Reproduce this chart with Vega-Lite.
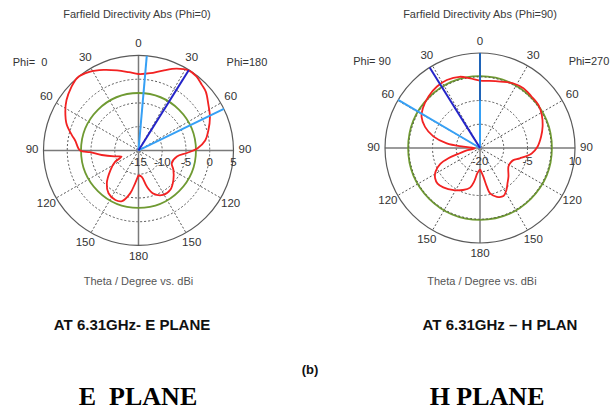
{
"$schema":"https://vega.github.io/schema/vega-lite/v6.json",
"padding":0,
"bounds":"flush",
"spacing":0,
"config":{"view":{"stroke":null}},
"resolve":{"scale":{"x":"independent","y":"independent"}},
"datasets":{
 "angles":[{"theta":0,"label":"0"},{"theta":30,"label":"30"},{"theta":60,"label":"60"},{"theta":90,"label":"90"},{"theta":120,"label":"120"},{"theta":150,"label":"150"},{"theta":180,"label":"180"},{"theta":-30,"label":"30"},{"theta":-60,"label":"60"},{"theta":-90,"label":"90"},{"theta":-120,"label":"120"},{"theta":-150,"label":"150"}],
 "spokes":[{"theta":30,"r":0},{"theta":30,"r":1},{"theta":60,"r":0},{"theta":60,"r":1},{"theta":120,"r":0},{"theta":120,"r":1},{"theta":150,"r":0},{"theta":150,"r":1},{"theta":210,"r":0},{"theta":210,"r":1},{"theta":240,"r":0},{"theta":240,"r":1},{"theta":300,"r":0},{"theta":300,"r":1},{"theta":330,"r":0},{"theta":330,"r":1}],
 "axes":[{"theta":0,"r":0},{"theta":0,"r":1},{"theta":90,"r":0},{"theta":90,"r":1},{"theta":180,"r":0},{"theta":180,"r":1},{"theta":270,"r":0},{"theta":270,"r":1}],
 "curveE":[{"theta":-180,"db":-9.8},{"theta":-174,"db":-8.0},{"theta":-169,"db":-5.8},{"theta":-162,"db":-3.8},{"theta":-155,"db":-3.5},{"theta":-145,"db":-4.0},{"theta":-136,"db":-5.4},{"theta":-125,"db":-7.8},{"theta":-116,"db":-9.5},{"theta":-110,"db":-11.2},{"theta":-104,"db":-9.8},{"theta":-97,"db":-7.2},{"theta":-92,"db":-4.8},{"theta":-90,"db":-2.7},{"theta":-81,"db":-1.5},{"theta":-77,"db":-0.6},{"theta":-70,"db":1.1},{"theta":-62,"db":2.45},{"theta":-55,"db":3.5},{"theta":-47,"db":4.4},{"theta":-40,"db":5.0},{"theta":-32,"db":4.5},{"theta":-23.5,"db":3.5},{"theta":-15,"db":2.45},{"theta":-7,"db":1.6},{"theta":0,"db":1.1},{"theta":8.6,"db":1.45},{"theta":17,"db":2.6},{"theta":25,"db":4.0},{"theta":32,"db":4.9},{"theta":38,"db":4.8},{"theta":44,"db":4.2},{"theta":49,"db":3.8},{"theta":56,"db":2.7},{"theta":65,"db":1.6},{"theta":74,"db":0.3},{"theta":81.5,"db":-0.8},{"theta":88,"db":-2.6},{"theta":93,"db":-4.8},{"theta":99,"db":-6.8},{"theta":111,"db":-7.5},{"theta":119,"db":-6.6},{"theta":130,"db":-5.4},{"theta":141,"db":-4.35},{"theta":151,"db":-4.3},{"theta":161,"db":-5.4},{"theta":167,"db":-7.2},{"theta":173,"db":-9.4},{"theta":180,"db":-9.8}],
 "curveH":[{"theta":-180,"db":-13.3},{"theta":-174,"db":-12.0},{"theta":-170,"db":-9.2},{"theta":-166,"db":-7.1},{"theta":-158,"db":-5.7},{"theta":-148,"db":-4.3},{"theta":-137,"db":-3.0},{"theta":-130,"db":-2.5},{"theta":-124,"db":-2.9},{"theta":-118,"db":-4.1},{"theta":-112,"db":-6.4},{"theta":-108,"db":-9.5},{"theta":-105,"db":-12.9},{"theta":-100,"db":-16.0},{"theta":-94,"db":-18.4},{"theta":-85.4,"db":-14.7},{"theta":-82,"db":-9.4},{"theta":-76,"db":-4.8},{"theta":-69,"db":-1.4},{"theta":-62,"db":0.9},{"theta":-55,"db":2.0},{"theta":-45,"db":3.0},{"theta":-35,"db":3.7},{"theta":-26,"db":3.9},{"theta":-16,"db":3.4},{"theta":-8,"db":2.2},{"theta":0,"db":1.3},{"theta":8,"db":1.4},{"theta":17,"db":1.9},{"theta":27,"db":2.95},{"theta":36,"db":3.3},{"theta":45,"db":3.0},{"theta":54,"db":2.9},{"theta":62,"db":2.1},{"theta":71,"db":0.9},{"theta":79.5,"db":-0.4},{"theta":89,"db":-1.9},{"theta":96,"db":-3.6},{"theta":104.5,"db":-7.0},{"theta":110,"db":-8.8},{"theta":115.6,"db":-9.3},{"theta":123,"db":-9.3},{"theta":135,"db":-7.3},{"theta":142,"db":-5.9},{"theta":148,"db":-4.3},{"theta":154,"db":-3.1},{"theta":161,"db":-3.7},{"theta":167.5,"db":-5.3},{"theta":170,"db":-7.6},{"theta":173.4,"db":-10.9},{"theta":180,"db":-13.3}]
},
"hconcat":[
{
 "width":305,"height":412,
 "layer":[
  {"data":{"values":[{"db":-10},{"db":-5},{"db":0}]},
   "transform":[{"calculate":"(datum.db+15)/20","as":"r"}],
   "mark":{"type":"point","shape":"circle","filled":false,"stroke":"#555555","strokeWidth":1,"strokeDash":[2,2],"opacity":1},
   "encoding":{"x":{"datum":0,"type":"quantitative","scale":{"domain":[-1.458,1.753],"nice":false,"zero":false},"axis":null},"y":{"datum":0,"type":"quantitative","scale":{"domain":[-2.753,1.584],"nice":false,"zero":false},"axis":null},"size":{"field":"r","type":"quantitative","scale":{"type":"pow","exponent":2,"domain":[0,1],"range":[0,36100]},"legend":null}}},
  {"data":{"name":"spokes"},
   "transform":[{"calculate":"datum.r*sin(datum.theta*PI/180)","as":"x"},{"calculate":"datum.r*cos(datum.theta*PI/180)","as":"y"}],
   "mark":{"type":"line","stroke":"#555555","strokeWidth":1,"strokeDash":[2,2]},
   "encoding":{"x":{"field":"x","type":"quantitative","scale":{"domain":[-1.458,1.753],"nice":false,"zero":false},"axis":null},"y":{"field":"y","type":"quantitative","scale":{"domain":[-2.753,1.584],"nice":false,"zero":false},"axis":null},"detail":{"field":"theta","type":"nominal"},"order":{"field":"r","type":"quantitative"}}},
  {"data":{"name":"axes"},
   "transform":[{"calculate":"datum.r*sin(datum.theta*PI/180)","as":"x"},{"calculate":"datum.r*cos(datum.theta*PI/180)","as":"y"}],
   "mark":{"type":"line","stroke":"#7a7a7a","strokeWidth":1.5},
   "encoding":{"x":{"field":"x","type":"quantitative","scale":{"domain":[-1.458,1.753],"nice":false,"zero":false},"axis":null},"y":{"field":"y","type":"quantitative","scale":{"domain":[-2.753,1.584],"nice":false,"zero":false},"axis":null},"detail":{"field":"theta","type":"nominal"},"order":{"field":"r","type":"quantitative"}}},
  {"data":{"values":[{"db":-2.9}]},
   "transform":[{"calculate":"(datum.db+15)/20","as":"r"}],
   "mark":{"type":"point","shape":"circle","filled":false,"stroke":"#6f9a32","strokeWidth":1.8,"opacity":1},
   "encoding":{"x":{"datum":0,"type":"quantitative","scale":{"domain":[-1.458,1.753],"nice":false,"zero":false},"axis":null},"y":{"datum":0,"type":"quantitative","scale":{"domain":[-2.753,1.584],"nice":false,"zero":false},"axis":null},"size":{"field":"r","type":"quantitative","scale":{"type":"pow","exponent":2,"domain":[0,1],"range":[0,36100]},"legend":null}}},
  {"data":{"values":[{"db":5}]},
   "transform":[{"calculate":"(datum.db+15)/20","as":"r"}],
   "mark":{"type":"point","shape":"circle","filled":false,"stroke":"#5a5a5a","strokeWidth":1.2,"opacity":1},
   "encoding":{"x":{"datum":0,"type":"quantitative","scale":{"domain":[-1.458,1.753],"nice":false,"zero":false},"axis":null},"y":{"datum":0,"type":"quantitative","scale":{"domain":[-2.753,1.584],"nice":false,"zero":false},"axis":null},"size":{"field":"r","type":"quantitative","scale":{"type":"pow","exponent":2,"domain":[0,1],"range":[0,36100]},"legend":null}}},
  {"data":{"values":[{"db":-15}]},
   "mark":{"type":"point","shape":"circle","filled":true,"size":28,"color":"#8a8a8a","opacity":1},
   "encoding":{"x":{"datum":0,"type":"quantitative","scale":{"domain":[-1.458,1.753],"nice":false,"zero":false},"axis":null},"y":{"datum":0,"type":"quantitative","scale":{"domain":[-2.753,1.584],"nice":false,"zero":false},"axis":null}}},
  {"data":{"name":"curveE"},
   "transform":[{"calculate":"(datum.db+15)/20*sin(datum.theta*PI/180)","as":"x"},{"calculate":"(datum.db+15)/20*cos(datum.theta*PI/180)","as":"y"}],
   "mark":{"type":"line","stroke":"#f22222","strokeWidth":1.8,"interpolate":"catmull-rom"},
   "encoding":{"x":{"field":"x","type":"quantitative","scale":{"domain":[-1.458,1.753],"nice":false,"zero":false},"axis":null},"y":{"field":"y","type":"quantitative","scale":{"domain":[-2.753,1.584],"nice":false,"zero":false},"axis":null},"order":{"field":"theta","type":"quantitative"}}},
  {"data":{"values":[{"theta":5,"db":-15},{"theta":5,"db":5},{"theta":64,"db":-15},{"theta":64,"db":5}]},
   "transform":[{"calculate":"(datum.db+15)/20*sin(datum.theta*PI/180)","as":"x"},{"calculate":"(datum.db+15)/20*cos(datum.theta*PI/180)","as":"y"}],
   "mark":{"type":"line","stroke":"#36a0f5","strokeWidth":2},
   "encoding":{"x":{"field":"x","type":"quantitative","scale":{"domain":[-1.458,1.753],"nice":false,"zero":false},"axis":null},"y":{"field":"y","type":"quantitative","scale":{"domain":[-2.753,1.584],"nice":false,"zero":false},"axis":null},"detail":{"field":"theta","type":"nominal"},"order":{"field":"db","type":"quantitative"}}},
  {"data":{"values":[{"theta":32,"db":-15},{"theta":32,"db":5}]},
   "transform":[{"calculate":"(datum.db+15)/20*sin(datum.theta*PI/180)","as":"x"},{"calculate":"(datum.db+15)/20*cos(datum.theta*PI/180)","as":"y"}],
   "mark":{"type":"line","stroke":"#2424c8","strokeWidth":2},
   "encoding":{"x":{"field":"x","type":"quantitative","scale":{"domain":[-1.458,1.753],"nice":false,"zero":false},"axis":null},"y":{"field":"y","type":"quantitative","scale":{"domain":[-2.753,1.584],"nice":false,"zero":false},"axis":null},"order":{"field":"db","type":"quantitative"}}},
  {"data":{"name":"angles"},
   "transform":[{"calculate":"1.12*sin(datum.theta*PI/180)","as":"x"},{"calculate":"1.12*cos(datum.theta*PI/180)","as":"y"}],
   "mark":{"type":"text","font":"Liberation Sans","fontSize":11.5,"color":"#333333"},
   "encoding":{"x":{"field":"x","type":"quantitative","scale":{"domain":[-1.458,1.753],"nice":false,"zero":false},"axis":null},"y":{"field":"y","type":"quantitative","scale":{"domain":[-2.753,1.584],"nice":false,"zero":false},"axis":null},"text":{"field":"label","type":"nominal"}}},
  {"data":{"values":[{"db":-15,"label":"-15"},{"db":-10,"label":"-10"},{"db":-5,"label":"-5"},{"db":0,"label":"0"},{"db":5,"label":"5"}]},
   "transform":[{"calculate":"(datum.db+15)/20","as":"x"}],
   "mark":{"type":"text","font":"Liberation Sans","fontSize":11.5,"color":"#333333"},
   "encoding":{"x":{"field":"x","type":"quantitative","scale":{"domain":[-1.458,1.753],"nice":false,"zero":false},"axis":null},"y":{"datum":-0.135,"type":"quantitative","scale":{"domain":[-2.753,1.584],"nice":false,"zero":false},"axis":null},"text":{"field":"label","type":"nominal"}}},
  {"data":{"values":[{"t":"Farfield Directivity Abs (Phi=0)"}]},
   "mark":{"type":"text","font":"Liberation Sans","fontSize":11,"color":"#3a3a3a"},
   "encoding":{"x":{"datum":-0.016,"type":"quantitative","scale":{"domain":[-1.458,1.753],"nice":false,"zero":false},"axis":null},"y":{"datum":1.426,"type":"quantitative","scale":{"domain":[-2.753,1.584],"nice":false,"zero":false},"axis":null},"text":{"field":"t","type":"nominal"}}},
  {"data":{"values":[{"t":"Phi=\u00a0 0"}]},
   "mark":{"type":"text","font":"Liberation Sans","fontSize":11,"color":"#333333"},
   "encoding":{"x":{"datum":-1.142,"type":"quantitative","scale":{"domain":[-1.458,1.753],"nice":false,"zero":false},"axis":null},"y":{"datum":0.921,"type":"quantitative","scale":{"domain":[-2.753,1.584],"nice":false,"zero":false},"axis":null},"text":{"field":"t","type":"nominal"}}},
  {"data":{"values":[{"t":"Phi=180"}]},
   "mark":{"type":"text","font":"Liberation Sans","fontSize":11,"color":"#333333"},
   "encoding":{"x":{"datum":1.142,"type":"quantitative","scale":{"domain":[-1.458,1.753],"nice":false,"zero":false},"axis":null},"y":{"datum":0.921,"type":"quantitative","scale":{"domain":[-2.753,1.584],"nice":false,"zero":false},"axis":null},"text":{"field":"t","type":"nominal"}}},
  {"data":{"values":[{"t":"Theta / Degree vs. dBi"}]},
   "mark":{"type":"text","font":"Liberation Sans","fontSize":11,"color":"#555555"},
   "encoding":{"x":{"datum":0,"type":"quantitative","scale":{"domain":[-1.458,1.753],"nice":false,"zero":false},"axis":null},"y":{"datum":-1.384,"type":"quantitative","scale":{"domain":[-2.753,1.584],"nice":false,"zero":false},"axis":null},"text":{"field":"t","type":"nominal"}}},
  {"data":{"values":[{"t":"AT 6.31GHz- E PLANE"}]},
   "mark":{"type":"text","font":"Liberation Sans","fontSize":15,"fontWeight":"bold","color":"#111111"},
   "encoding":{"x":{"datum":-0.068,"type":"quantitative","scale":{"domain":[-1.458,1.753],"nice":false,"zero":false},"axis":null},"y":{"datum":-1.837,"type":"quantitative","scale":{"domain":[-2.753,1.584],"nice":false,"zero":false},"axis":null},"text":{"field":"t","type":"nominal"}}},
  {"data":{"values":[{"t":"E\u00a0 PLANE"}]},
   "mark":{"type":"text","font":"Liberation Serif","fontSize":26,"fontWeight":"bold","color":"#000000"},
   "encoding":{"x":{"datum":-0.005,"type":"quantitative","scale":{"domain":[-1.458,1.753],"nice":false,"zero":false},"axis":null},"y":{"datum":-2.595,"type":"quantitative","scale":{"domain":[-2.753,1.584],"nice":false,"zero":false},"axis":null},"text":{"field":"t","type":"nominal"}}}
 ]
},
{
 "width":305,"height":412,
 "layer":[
  {"data":{"values":[{"db":-12.5},{"db":-5},{"db":2.5}]},
   "transform":[{"calculate":"(datum.db+20)/30","as":"r"}],
   "mark":{"type":"point","shape":"circle","filled":false,"stroke":"#555555","strokeWidth":1,"strokeDash":[2,2],"opacity":1},
   "encoding":{"x":{"datum":0,"type":"quantitative","scale":{"domain":[-1.842,1.368],"nice":false,"zero":false},"axis":null},"y":{"datum":0,"type":"quantitative","scale":{"domain":[-2.779,1.558],"nice":false,"zero":false},"axis":null},"size":{"field":"r","type":"quantitative","scale":{"type":"pow","exponent":2,"domain":[0,1],"range":[0,36100]},"legend":null}}},
  {"data":{"name":"spokes"},
   "transform":[{"calculate":"datum.r*sin(datum.theta*PI/180)","as":"x"},{"calculate":"datum.r*cos(datum.theta*PI/180)","as":"y"}],
   "mark":{"type":"line","stroke":"#555555","strokeWidth":1,"strokeDash":[2,2]},
   "encoding":{"x":{"field":"x","type":"quantitative","scale":{"domain":[-1.842,1.368],"nice":false,"zero":false},"axis":null},"y":{"field":"y","type":"quantitative","scale":{"domain":[-2.779,1.558],"nice":false,"zero":false},"axis":null},"detail":{"field":"theta","type":"nominal"},"order":{"field":"r","type":"quantitative"}}},
  {"data":{"name":"axes"},
   "transform":[{"calculate":"datum.r*sin(datum.theta*PI/180)","as":"x"},{"calculate":"datum.r*cos(datum.theta*PI/180)","as":"y"}],
   "mark":{"type":"line","stroke":"#7a7a7a","strokeWidth":1.5},
   "encoding":{"x":{"field":"x","type":"quantitative","scale":{"domain":[-1.842,1.368],"nice":false,"zero":false},"axis":null},"y":{"field":"y","type":"quantitative","scale":{"domain":[-2.779,1.558],"nice":false,"zero":false},"axis":null},"detail":{"field":"theta","type":"nominal"},"order":{"field":"r","type":"quantitative"}}},
  {"data":{"values":[{"db":2.7}]},
   "transform":[{"calculate":"(datum.db+20)/30","as":"r"}],
   "mark":{"type":"point","shape":"circle","filled":false,"stroke":"#6f9a32","strokeWidth":1.8,"opacity":1},
   "encoding":{"x":{"datum":0,"type":"quantitative","scale":{"domain":[-1.842,1.368],"nice":false,"zero":false},"axis":null},"y":{"datum":0,"type":"quantitative","scale":{"domain":[-2.779,1.558],"nice":false,"zero":false},"axis":null},"size":{"field":"r","type":"quantitative","scale":{"type":"pow","exponent":2,"domain":[0,1],"range":[0,36100]},"legend":null}}},
  {"data":{"values":[{"db":2.5}]},
   "transform":[{"calculate":"(datum.db+20)/30","as":"r"}],
   "mark":{"type":"point","shape":"circle","filled":false,"stroke":"#444444","strokeWidth":1,"strokeDash":[1,3],"opacity":0.8},
   "encoding":{"x":{"datum":0,"type":"quantitative","scale":{"domain":[-1.842,1.368],"nice":false,"zero":false},"axis":null},"y":{"datum":0,"type":"quantitative","scale":{"domain":[-2.779,1.558],"nice":false,"zero":false},"axis":null},"size":{"field":"r","type":"quantitative","scale":{"type":"pow","exponent":2,"domain":[0,1],"range":[0,36100]},"legend":null}}},
  {"data":{"values":[{"db":10}]},
   "transform":[{"calculate":"(datum.db+20)/30","as":"r"}],
   "mark":{"type":"point","shape":"circle","filled":false,"stroke":"#5a5a5a","strokeWidth":1.2,"opacity":1},
   "encoding":{"x":{"datum":0,"type":"quantitative","scale":{"domain":[-1.842,1.368],"nice":false,"zero":false},"axis":null},"y":{"datum":0,"type":"quantitative","scale":{"domain":[-2.779,1.558],"nice":false,"zero":false},"axis":null},"size":{"field":"r","type":"quantitative","scale":{"type":"pow","exponent":2,"domain":[0,1],"range":[0,36100]},"legend":null}}},
  {"data":{"values":[{"db":-20}]},
   "mark":{"type":"point","shape":"circle","filled":true,"size":28,"color":"#8a8a8a","opacity":1},
   "encoding":{"x":{"datum":0,"type":"quantitative","scale":{"domain":[-1.842,1.368],"nice":false,"zero":false},"axis":null},"y":{"datum":0,"type":"quantitative","scale":{"domain":[-2.779,1.558],"nice":false,"zero":false},"axis":null}}},
  {"data":{"name":"curveH"},
   "transform":[{"calculate":"(datum.db+20)/30*sin(datum.theta*PI/180)","as":"x"},{"calculate":"(datum.db+20)/30*cos(datum.theta*PI/180)","as":"y"}],
   "mark":{"type":"line","stroke":"#f22222","strokeWidth":1.8,"interpolate":"catmull-rom"},
   "encoding":{"x":{"field":"x","type":"quantitative","scale":{"domain":[-1.842,1.368],"nice":false,"zero":false},"axis":null},"y":{"field":"y","type":"quantitative","scale":{"domain":[-2.779,1.558],"nice":false,"zero":false},"axis":null},"order":{"field":"theta","type":"quantitative"}}},
  {"data":{"values":[{"theta":0,"db":-20},{"theta":0,"db":10},{"theta":-59.5,"db":-20},{"theta":-59.5,"db":10}]},
   "transform":[{"calculate":"(datum.db+20)/30*sin(datum.theta*PI/180)","as":"x"},{"calculate":"(datum.db+20)/30*cos(datum.theta*PI/180)","as":"y"}],
   "mark":{"type":"line","stroke":"#36a0f5","strokeWidth":2},
   "encoding":{"x":{"field":"x","type":"quantitative","scale":{"domain":[-1.842,1.368],"nice":false,"zero":false},"axis":null},"y":{"field":"y","type":"quantitative","scale":{"domain":[-2.779,1.558],"nice":false,"zero":false},"axis":null},"detail":{"field":"theta","type":"nominal"},"order":{"field":"db","type":"quantitative"}}},
  {"data":{"values":[{"theta":0,"db":-5},{"theta":0,"db":10}]},
   "transform":[{"calculate":"(datum.db+20)/30*sin(datum.theta*PI/180)","as":"x"},{"calculate":"(datum.db+20)/30*cos(datum.theta*PI/180)","as":"y"}],
   "mark":{"type":"line","stroke":"#1f64b8","strokeWidth":2},
   "encoding":{"x":{"field":"x","type":"quantitative","scale":{"domain":[-1.842,1.368],"nice":false,"zero":false},"axis":null},"y":{"field":"y","type":"quantitative","scale":{"domain":[-2.779,1.558],"nice":false,"zero":false},"axis":null},"order":{"field":"db","type":"quantitative"}}},
  {"data":{"values":[{"theta":-32,"db":-20},{"theta":-32,"db":10}]},
   "transform":[{"calculate":"(datum.db+20)/30*sin(datum.theta*PI/180)","as":"x"},{"calculate":"(datum.db+20)/30*cos(datum.theta*PI/180)","as":"y"}],
   "mark":{"type":"line","stroke":"#2424c8","strokeWidth":2},
   "encoding":{"x":{"field":"x","type":"quantitative","scale":{"domain":[-1.842,1.368],"nice":false,"zero":false},"axis":null},"y":{"field":"y","type":"quantitative","scale":{"domain":[-2.779,1.558],"nice":false,"zero":false},"axis":null},"order":{"field":"db","type":"quantitative"}}},
  {"data":{"name":"angles"},
   "transform":[{"calculate":"1.12*sin(datum.theta*PI/180)","as":"x"},{"calculate":"1.12*cos(datum.theta*PI/180)","as":"y"}],
   "mark":{"type":"text","font":"Liberation Sans","fontSize":11.5,"color":"#333333"},
   "encoding":{"x":{"field":"x","type":"quantitative","scale":{"domain":[-1.842,1.368],"nice":false,"zero":false},"axis":null},"y":{"field":"y","type":"quantitative","scale":{"domain":[-2.779,1.558],"nice":false,"zero":false},"axis":null},"text":{"field":"label","type":"nominal"}}},
  {"data":{"values":[{"db":-20,"label":"-20"},{"db":-5,"label":"-5"},{"db":10,"label":"10"}]},
   "transform":[{"calculate":"(datum.db+20)/30","as":"x"}],
   "mark":{"type":"text","font":"Liberation Sans","fontSize":11.5,"color":"#333333"},
   "encoding":{"x":{"field":"x","type":"quantitative","scale":{"domain":[-1.842,1.368],"nice":false,"zero":false},"axis":null},"y":{"datum":-0.15,"type":"quantitative","scale":{"domain":[-2.779,1.558],"nice":false,"zero":false},"axis":null},"text":{"field":"label","type":"nominal"}}},
  {"data":{"values":[{"t":"Farfield Directivity Abs (Phi=90)"}]},
   "mark":{"type":"text","font":"Liberation Sans","fontSize":11,"color":"#3a3a3a"},
   "encoding":{"x":{"datum":0,"type":"quantitative","scale":{"domain":[-1.842,1.368],"nice":false,"zero":false},"axis":null},"y":{"datum":1.4,"type":"quantitative","scale":{"domain":[-2.779,1.558],"nice":false,"zero":false},"axis":null},"text":{"field":"t","type":"nominal"}}},
  {"data":{"values":[{"t":"Phi= 90"}]},
   "mark":{"type":"text","font":"Liberation Sans","fontSize":11,"color":"#333333"},
   "encoding":{"x":{"datum":-1.137,"type":"quantitative","scale":{"domain":[-1.842,1.368],"nice":false,"zero":false},"axis":null},"y":{"datum":0.905,"type":"quantitative","scale":{"domain":[-2.779,1.558],"nice":false,"zero":false},"axis":null},"text":{"field":"t","type":"nominal"}}},
  {"data":{"values":[{"t":"Phi=270"}]},
   "mark":{"type":"text","font":"Liberation Sans","fontSize":11,"color":"#333333"},
   "encoding":{"x":{"datum":1.147,"type":"quantitative","scale":{"domain":[-1.842,1.368],"nice":false,"zero":false},"axis":null},"y":{"datum":0.905,"type":"quantitative","scale":{"domain":[-2.779,1.558],"nice":false,"zero":false},"axis":null},"text":{"field":"t","type":"nominal"}}},
  {"data":{"values":[{"t":"Theta / Degree vs. dBi"}]},
   "mark":{"type":"text","font":"Liberation Sans","fontSize":11,"color":"#555555"},
   "encoding":{"x":{"datum":0.02,"type":"quantitative","scale":{"domain":[-1.842,1.368],"nice":false,"zero":false},"axis":null},"y":{"datum":-1.41,"type":"quantitative","scale":{"domain":[-2.779,1.558],"nice":false,"zero":false},"axis":null},"text":{"field":"t","type":"nominal"}}},
  {"data":{"values":[{"t":"AT 6.31GHz – H PLAN"}]},
   "mark":{"type":"text","font":"Liberation Sans","fontSize":15,"fontWeight":"bold","color":"#111111"},
   "encoding":{"x":{"datum":0.21,"type":"quantitative","scale":{"domain":[-1.842,1.368],"nice":false,"zero":false},"axis":null},"y":{"datum":-1.863,"type":"quantitative","scale":{"domain":[-2.779,1.558],"nice":false,"zero":false},"axis":null},"text":{"field":"t","type":"nominal"}}},
  {"data":{"values":[{"t":"(b)"}]},
   "mark":{"type":"text","font":"Liberation Sans","fontSize":13,"fontWeight":"bold","color":"#111111"},
   "encoding":{"x":{"datum":-1.789,"type":"quantitative","scale":{"domain":[-1.842,1.368],"nice":false,"zero":false},"axis":null},"y":{"datum":-2.337,"type":"quantitative","scale":{"domain":[-2.779,1.558],"nice":false,"zero":false},"axis":null},"text":{"field":"t","type":"nominal"}}},
  {"data":{"values":[{"t":"H PLANE"}]},
   "mark":{"type":"text","font":"Liberation Serif","fontSize":26,"fontWeight":"bold","color":"#000000"},
   "encoding":{"x":{"datum":0.074,"type":"quantitative","scale":{"domain":[-1.842,1.368],"nice":false,"zero":false},"axis":null},"y":{"datum":-2.621,"type":"quantitative","scale":{"domain":[-2.779,1.558],"nice":false,"zero":false},"axis":null},"text":{"field":"t","type":"nominal"}}}
 ]
}
]
}
